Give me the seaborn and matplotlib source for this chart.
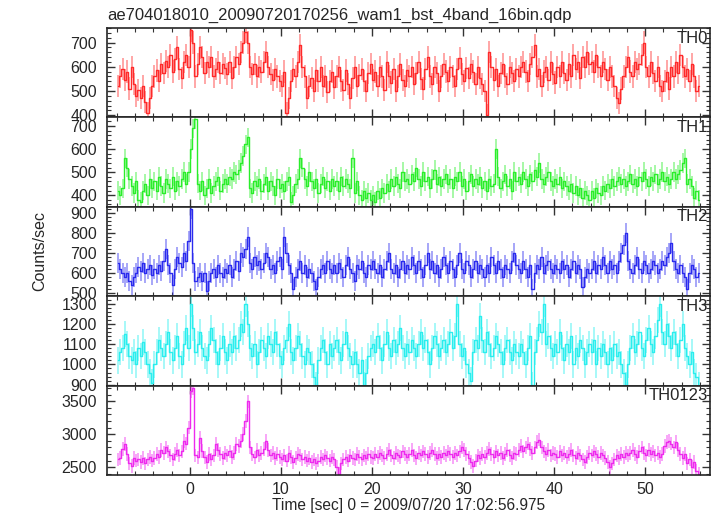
import numpy as np
import pandas as pd
import matplotlib
matplotlib.use("Agg")
import matplotlib.pyplot as plt
import seaborn as sns
from matplotlib.ticker import MultipleLocator

# WAM burst light curves, 4 bands + sum, 0.25 s bins from t = -8 s
t_start = -8.0
bin_width = 0.25

th0 = [
    520, 560, 590, 545, 580, 510, 600, 530, 480, 505, 470, 520, 455, 410, 470, 520,
    560, 585, 540, 610, 575, 625, 600, 650, 580, 630, 680, 590, 555, 620, 650, 600,
    750, 700, 560, 610, 680, 640, 575, 620, 600, 640, 560, 590, 620, 575, 610, 595,
    570, 620, 555, 600, 640, 610, 660, 700, 745, 700, 600, 570, 610, 560, 600, 580,
    620, 660, 600, 570, 545, 590, 560, 540, 520, 580, 410, 470, 540, 590, 560, 620,
    690, 600, 560, 470, 520, 555, 500, 585, 540, 600, 520, 560, 495, 540, 580, 515,
    560, 600, 540, 505, 585, 530, 470, 555, 600, 520, 565, 590, 540, 500, 575, 610,
    545, 580, 520, 600, 560, 505, 620, 560, 535, 590, 500, 560, 610, 545, 520, 585,
    560, 600, 530, 575, 620, 550, 510, 590, 640, 560, 530, 600, 575, 500, 560, 610,
    580, 540, 600, 560, 520, 590, 635, 570, 540, 595, 555, 610, 580, 530, 600, 555,
    530, 500, 400, 660, 600, 545, 590, 520, 575, 610, 560, 530, 600, 575, 540, 590,
    560, 600, 620, 580, 540, 610, 640, 690, 560, 590, 520, 580, 600, 545, 620, 570,
    535, 600, 560, 620, 575, 545, 610, 560, 650, 590, 620, 555, 640, 600, 660, 610,
    620, 580, 650, 600, 560, 620, 590, 545, 600, 560, 520, 470, 450, 510, 560, 600,
    640, 580, 560, 620, 590, 610, 650, 700, 600, 560, 620, 575, 540, 600, 520, 500,
    540, 580, 510, 600, 560, 620, 575, 650, 600, 560, 590, 540, 610, 560, 500, 520,
]

th1 = [
    420, 400, 430, 560, 520, 470, 440, 410, 460, 380, 370, 420, 450, 400, 470, 430,
    460, 420, 480, 440, 410, 470, 450, 430, 480, 420, 460, 440, 470, 500, 450, 500,
    600, 690, 730, 450, 420, 460, 400, 430, 470, 410, 440, 460, 480, 420, 450, 470,
    450, 480, 470, 500, 490, 510, 540, 570, 620, 650, 430, 410, 460, 440, 470, 420,
    450, 480, 420, 460, 440, 400, 470, 430, 450, 420, 460, 480, 370, 400, 450, 470,
    560, 520, 470, 440, 500, 460, 430, 470, 410, 450, 480, 430, 460, 420, 470, 440,
    460, 420, 480, 440, 470, 450, 430, 560, 410, 460, 400, 380, 420, 390, 410, 380,
    400, 370, 420, 390, 430, 410, 450, 420, 470, 440, 480, 450, 430, 500, 460, 470,
    450, 490, 460, 520, 470, 440, 500, 460, 480, 430, 470, 510, 450, 480, 440, 470,
    490, 450, 470, 430, 480, 460, 500, 440, 470, 420, 460, 490, 440, 470, 450, 480,
    430, 460, 420, 470, 440, 450, 600, 480, 430, 460, 490, 440, 470, 420, 500, 460,
    480, 450, 500, 470, 440, 490, 460, 510, 480, 540, 470, 450, 480, 500, 460, 440,
    470, 450, 480, 430, 460, 440, 420, 450, 410, 440, 400, 430, 390, 420, 400, 380,
    420, 390, 430, 410, 400, 440, 420, 450, 430, 470, 440, 460, 480, 450, 470, 440,
    460, 490, 450, 470, 440, 480, 460, 500, 470, 440, 480, 460, 490, 450, 470, 500,
    460, 480, 450, 470, 500, 470, 490, 510, 540, 560, 450, 470, 440, 390, 420, 380,
]

th2 = [
    650, 620, 600, 580, 600, 560, 540, 580, 600, 630, 610, 650, 600, 620, 640, 590,
    620, 600, 640, 610, 660, 720, 640, 600, 540, 620, 680, 650, 630, 700, 660, 760,
    920, 650, 560, 580, 600, 560, 600, 510, 560, 600, 620, 580, 640, 600, 580, 620,
    600, 640, 580, 620, 660, 610, 700, 680, 720, 780, 650, 620, 680, 640, 660, 620,
    650, 700, 680, 620, 640, 600, 660, 680, 620, 780, 700, 640, 600, 520, 580, 620,
    660, 600, 640, 580, 620, 600, 560, 520, 580, 620, 640, 600, 660, 620, 600, 640,
    600, 650, 620, 580, 640, 680, 620, 600, 560, 640, 620, 660, 600, 580, 640, 620,
    660, 620, 600, 640, 580, 620, 660, 700, 620, 600, 640, 580, 620, 660, 600, 640,
    620, 680, 640, 600, 660, 620, 580, 640, 700, 620, 660, 600, 640, 580, 620, 680,
    640, 600, 660, 620, 580, 640, 700, 620, 600, 660, 640, 580, 620, 660, 600, 640,
    620, 580, 640, 600, 680, 640, 600, 660, 620, 580, 640, 620, 600, 660, 700, 640,
    620, 600, 660, 620, 580, 640, 520, 600, 640, 620, 680, 600, 640, 660, 620, 600,
    640, 620, 600, 660, 620, 640, 580, 620, 660, 600, 640, 620, 530, 580, 620, 600,
    620, 660, 600, 640, 620, 680, 640, 600, 660, 620, 640, 600, 660, 700, 740, 800,
    660, 620, 600, 640, 680, 620, 600, 660, 640, 600, 620, 660, 640, 600, 620, 660,
    640, 680, 700, 750, 660, 620, 600, 640, 600, 580, 520, 600, 640, 620, 580, 600,
]

th3 = [
    1020, 1060, 1080, 1150, 1100, 1040, 1020, 1060, 1000, 1080, 1040, 1110, 1060, 1000, 960, 910,
    1000, 1060, 1120, 1080, 1040, 1100, 1160, 1060, 1020, 1080, 1140, 1040, 1000, 1100, 1180, 1080,
    1300, 1180, 1060, 1100, 1160, 1080, 1040, 1020, 1100, 1180, 1120, 1060, 1000, 1080, 1140, 1060,
    1020, 1100, 1060, 1140, 1080, 1120, 1200, 1160, 1300, 1200, 1080, 1040, 1100, 1000, 1060, 1120,
    1080, 1040, 1140, 1100, 1060, 1160, 1100, 1040, 1000, 1080, 1120, 1200, 1060, 1020, 1080, 1140,
    1100, 1040, 1000, 1080, 1060, 1000, 940, 900, 1020, 1080, 1120, 1060, 1000, 1100, 1040, 1080,
    1120, 1060, 1020, 1100, 1160, 1080, 1040, 1000, 1060, 1000, 960, 1020, 900, 960, 1040, 1080,
    1100, 1060, 1140, 1080, 1020, 1100, 1160, 1080, 1040, 1120, 1060, 1100, 1180, 1080, 1040, 1100,
    1060, 1120, 1080, 1040, 1100, 1160, 1080, 1120, 1060, 1000, 1080, 1140, 1100, 1040, 1080, 1120,
    1060, 1100, 1160, 1080, 1140, 1300, 1100, 1040, 1080, 1000, 960, 920, 1060, 1120, 1080, 1240,
    1120, 1060, 1160, 1100, 1040, 1080, 1140, 1100, 1060, 1000, 1080, 1120, 1060, 1020, 1100, 1060,
    1040, 1100, 1060, 1000, 1080, 1140, 900, 1060, 1120, 1200, 1160, 1300, 1100, 1140, 1080, 1040,
    1100, 1060, 1160, 1080, 1020, 1100, 1060, 1140, 1000, 1080, 1040, 1120, 1080, 1000, 1060, 1100,
    1060, 1120, 1000, 1080, 1040, 1100, 1060, 1000, 1080, 1020, 1100, 1040, 1060, 1000, 960, 900,
    1000, 1080, 1140, 1060, 1100, 1160, 1080, 1040, 1120, 1180, 1100, 1060, 1140, 1220, 1300, 1160,
    1100, 1200, 1140, 1080, 1160, 1100, 1040, 1120, 1200, 1080, 1040, 1000, 1060, 960, 940, 900,
]

th0123 = [
    2620, 2640, 2780, 2850, 2700, 2560, 2520, 2640, 2600, 2620, 2580, 2640, 2560, 2620, 2660, 2600,
    2640, 2700, 2660, 2760, 2720, 2800, 2740, 2680, 2620, 2700, 2760, 2680, 2740, 2900, 2860, 3100,
    3650, 3700, 2680, 2650, 2950, 2750, 2650, 2580, 2700, 2620, 2680, 2850, 2760, 2700, 2640, 2720,
    2680, 2740, 2660, 2720, 2850, 2820, 2900, 3000, 3200, 3500, 2800, 2700, 2650, 2760, 2680, 2720,
    2780, 2900, 2760, 2680, 2720, 2640, 2700, 2660, 2620, 2680, 2600, 2720, 2660, 2580, 2640, 2700,
    2680, 2620, 2660, 2600, 2640, 2580, 2620, 2560, 2600, 2660, 2620, 2680, 2640, 2600, 2660, 2620,
    2500, 2400, 2560, 2620, 2660, 2600, 2680, 2640, 2620, 2700, 2660, 2620, 2680, 2640, 2700, 2660,
    2640, 2700, 2660, 2720, 2680, 2640, 2700, 2760, 2680, 2640, 2720, 2680, 2660, 2740, 2700, 2660,
    2700, 2760, 2680, 2640, 2720, 2680, 2740, 2700, 2660, 2720, 2760, 2700, 2640, 2700, 2660, 2720,
    2680, 2740, 2700, 2660, 2720, 2680, 2740, 2800, 2760, 2700, 2640, 2580, 2520, 2600, 2680, 2640,
    2700, 2660, 2720, 2780, 2700, 2660, 2740, 2680, 2720, 2640, 2700, 2760, 2680, 2640, 2720, 2700,
    2760, 2820, 2740, 2800, 2860, 2780, 2720, 2800, 2880, 2920, 2800, 2740, 2700, 2760, 2680, 2720,
    2700, 2660, 2740, 2680, 2720, 2660, 2700, 2760, 2680, 2640, 2720, 2680, 2620, 2580, 2660, 2720,
    2680, 2740, 2700, 2660, 2720, 2680, 2640, 2580, 2500, 2560, 2620, 2680, 2640, 2700, 2660, 2720,
    2680, 2720, 2760, 2700, 2660, 2740, 2800, 2720, 2680, 2760, 2700, 2740, 2680, 2720, 2660, 2700,
    2820, 2880, 2900, 2860, 2800, 2880, 2760, 2700, 2640, 2700, 2560, 2620, 2500, 2580, 2450, 2400,
]

band_names = ["TH0", "TH1", "TH2", "TH3", "TH0123"]
band_rates = [th0, th1, th2, th3, th0123]
band_errors = [46, 42, 50, 65, 103]   # typical 1-sigma error bar, counts/sec
band_colors = ["#ff2a2a", "#2aee2a", "#2a2aee", "#2aeeee", "#ee2aee"]
band_ylims = [(391, 760), (350, 737), (486, 929), (895, 1339), (2383, 3738)]
band_major = [100, 100, 100, 100, 500]
band_minor = [20, 20, 20, 20, 100]

sns.set_style("ticks")
plt.rcParams["font.family"] = ["Liberation Sans", "DejaVu Sans"]

fig, axes = plt.subplots(5, 1, figsize=(7.17, 5.16), dpi=100, sharex=True)
fig.subplots_adjust(left=0.149, right=0.990, top=1 - 28 / 516,
                    bottom=1 - 475 / 516, hspace=0)

for ax, name, rates, err, col, ylim, maj, mnr in zip(
        axes, band_names, band_rates, band_errors, band_colors,
        band_ylims, band_major, band_minor):
    t = t_start + bin_width * (np.arange(len(rates)) + 0.5)
    df = pd.DataFrame({"time": t, "rate": rates})
    ax.errorbar(df["time"], df["rate"], yerr=err, fmt="none",
                ecolor=col, elinewidth=1.3, alpha=0.45)
    sns.lineplot(data=df, x="time", y="rate", ax=ax, color=col,
                 linewidth=1.0, drawstyle="steps-mid", errorbar=None)
    ax.set_ylim(*ylim)
    ax.set_xlim(-9.1, 57.1)
    ax.yaxis.set_major_locator(MultipleLocator(maj))
    ax.yaxis.set_minor_locator(MultipleLocator(mnr))
    ax.xaxis.set_major_locator(MultipleLocator(10))
    ax.xaxis.set_minor_locator(MultipleLocator(2))
    ax.tick_params(which="both", direction="in", top=True, right=True,
                   labelsize=11.5, color="#333333")
    ax.tick_params(which="major", length=6, width=1.0)
    ax.tick_params(axis="y", which="major", pad=7)
    ax.tick_params(axis="x", which="major", pad=5)
    ax.tick_params(which="minor", length=3, width=0.8)
    for sp in ax.spines.values():
        sp.set_linewidth(1.2)
    ax.set_xlabel("")
    ax.set_ylabel("")
    ax.text(0.997, 0.97, name, transform=ax.transAxes, ha="right", va="top",
            fontsize=12)

axes[-1].set_xlabel("Time [sec] 0 = 2009/07/20 17:02:56.975", fontsize=11.2,
                    labelpad=1)
fig.text(40 / 717, 1 - 251 / 516, "Counts/sec", rotation=90, ha="center",
         va="center", fontsize=11.5)
fig.text(107 / 717, 1 - 15 / 516, "ae704018010_20090720170256_wam1_bst_4band_16bin.qdp",
         ha="left", va="center", fontsize=12)

fig.savefig("out.png", dpi=100)
